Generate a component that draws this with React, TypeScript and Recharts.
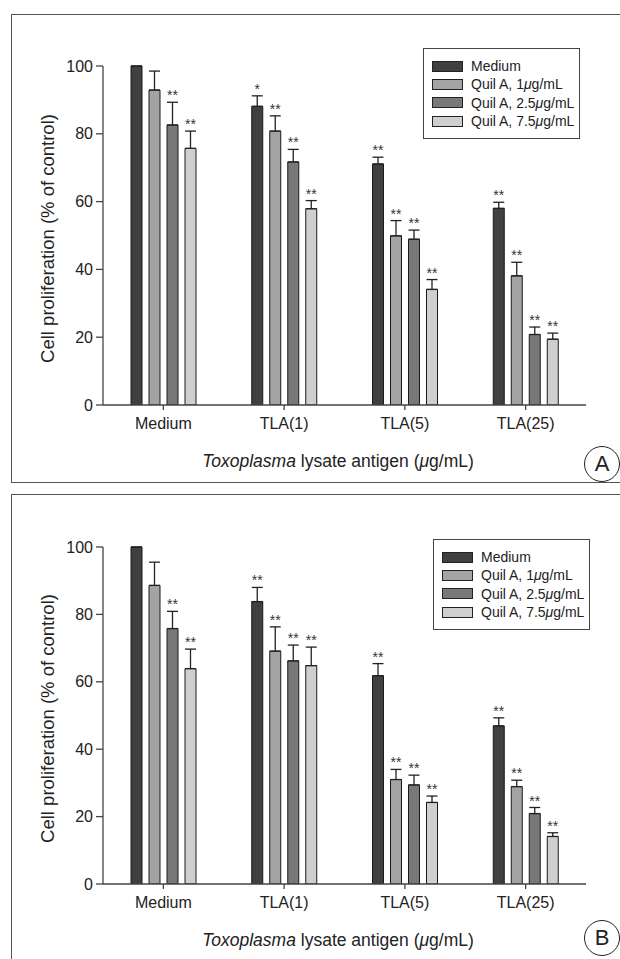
import { BarChart, Bar, XAxis, YAxis, ErrorBar, LabelList, Legend } from "recharts";

const CATEGORIES = ["Medium", "TLA(1)", "TLA(5)", "TLA(25)"];
const SERIES_KEYS = ["medium", "q1", "q25", "q75"];
const SERIES_DOSES = ["", "1", "2.5", "7.5"];
const COLORS = ["#404040", "#a3a3a3", "#787878", "#cfcfcf"];
const Y_TICKS = [0, 20, 40, 60, 80, 100];

// panel A
const A_MEDIUM = [100, 88.1, 71.1, 58.0];
const A_Q1 = [92.9, 80.8, 49.9, 38.1];
const A_Q25 = [82.6, 71.7, 48.9, 20.8];
const A_Q75 = [75.7, 57.9, 34.1, 19.4];
const A_MEDIUM_ERR = [0, 3.1, 2.0, 1.8];
const A_Q1_ERR = [5.6, 4.5, 4.5, 4.0];
const A_Q25_ERR = [6.7, 3.7, 2.7, 2.2];
const A_Q75_ERR = [5.1, 2.4, 2.9, 1.8];
const A_MEDIUM_SIG = ["", "*", "**", "**"];
const A_Q1_SIG = ["", "**", "**", "**"];
const A_Q25_SIG = ["**", "**", "**", "**"];
const A_Q75_SIG = ["**", "**", "**", "**"];

// panel B
const B_MEDIUM = [100, 83.8, 61.8, 46.9];
const B_Q1 = [88.6, 69.1, 31.0, 28.9];
const B_Q25 = [75.8, 66.2, 29.4, 20.9];
const B_Q75 = [63.9, 64.8, 24.2, 14.1];
const B_MEDIUM_ERR = [0, 4.2, 3.6, 2.4];
const B_Q1_ERR = [6.9, 7.2, 3.0, 1.9];
const B_Q25_ERR = [5.1, 4.7, 2.9, 1.8];
const B_Q75_ERR = [5.8, 5.5, 1.9, 1.1];
const B_MEDIUM_SIG = ["", "**", "**", "**"];
const B_Q1_SIG = ["", "**", "**", "**"];
const B_Q25_SIG = ["**", "**", "**", "**"];
const B_Q75_SIG = ["**", "**", "**", "**"];

const FONT = "'Liberation Sans', Arial, sans-serif";

function buildRows(vals: number[][], errs: number[][], sigs: string[][]) {
  return CATEGORIES.map((name, i) => {
    const row: any = { name };
    SERIES_KEYS.forEach((k, s) => {
      row[k] = vals[s][i];
      row[k + "Err"] = [0, errs[s][i]];
      row[k + "Sig"] = sigs[s][i];
    });
    return row;
  });
}

const dataA = buildRows(
  [A_MEDIUM, A_Q1, A_Q25, A_Q75],
  [A_MEDIUM_ERR, A_Q1_ERR, A_Q25_ERR, A_Q75_ERR],
  [A_MEDIUM_SIG, A_Q1_SIG, A_Q25_SIG, A_Q75_SIG]
);
const dataB = buildRows(
  [B_MEDIUM, B_Q1, B_Q25, B_Q75],
  [B_MEDIUM_ERR, B_Q1_ERR, B_Q25_ERR, B_Q75_ERR],
  [B_MEDIUM_SIG, B_Q1_SIG, B_Q25_SIG, B_Q75_SIG]
);

function seriesLabel(i: number) {
  if (i === 0) return <span>Medium</span>;
  return (
    <span>
      Quil A, {SERIES_DOSES[i]}
      <i>μ</i>g/mL
    </span>
  );
}

function LegendBox() {
  return (
    <div
      style={{
        boxSizing: "border-box",
        width: 157,
        height: 91,
        border: "1.5px solid #444",
        background: "#fff",
        padding: "8px 0 0 8px",
        fontFamily: FONT,
        fontSize: 14,
        color: "#222",
        whiteSpace: "nowrap",
      }}
    >
      {SERIES_KEYS.map((k, i) => (
        <div key={k} style={{ display: "flex", alignItems: "center", height: 18.3 }}>
          <div
            style={{
              boxSizing: "border-box",
              width: 31,
              height: 11,
              background: COLORS[i],
              border: "1px solid #222",
              marginRight: 8,
              flexShrink: 0,
            }}
          />
          {seriesLabel(i)}
        </div>
      ))}
    </div>
  );
}

function starLabel(key: string, data: any[]) {
  return (props: any) => {
    const vb = props.viewBox || {};
    const x = props.x ?? vb.x;
    const y = props.y ?? vb.y;
    const width = props.width ?? vb.width;
    const height = props.height ?? vb.height;
    const row = data[props.index];
    if (!row || !row[key + "Sig"]) return null;
    const perUnit = height / row[key];
    const top = y - row[key + "Err"][1] * perUnit;
    return (
      <text x={x + width / 2} y={top - 2} textAnchor="middle" fontSize={14} fill="#333" fontFamily={FONT}>
        {row[key + "Sig"]}
      </text>
    );
  };
}

function Panel({ data, top, height, marginTop, marginBottom, legendTop, legendLeft, titleY, letter, circleY }: any) {
  const plotTop = marginTop;
  const plotBottom = height - marginBottom - 30;
  const midY = (plotTop + plotBottom) / 2 + 3;
  return (
    <div style={{ position: "absolute", left: 0, top, width: 620, height }}>
      <BarChart
        width={620}
        height={height}
        data={data}
        margin={{ top: marginTop, right: 34, bottom: marginBottom, left: 43 }}
        barSize={11}
        barGap={7}
      >
        <XAxis
          dataKey="name"
          height={30}
          axisLine={{ stroke: "#444", strokeWidth: 1.3 }}
          tickLine={{ stroke: "#444", strokeWidth: 1.3 }}
          tickSize={5}
          tickMargin={8}
          tick={{ fill: "#222", fontSize: 16, fontFamily: FONT }}
          label={() => (
            <text x={338} y={titleY} textAnchor="middle" fontSize={17.5} fill="#222" fontFamily={FONT}>
              <tspan fontStyle="italic">Toxoplasma</tspan> lysate antigen (<tspan fontStyle="italic">μ</tspan>g/mL)
            </text>
          )}
        />
        <YAxis
          width={60}
          domain={[0, 100]}
          ticks={Y_TICKS}
          allowDataOverflow
          axisLine={{ stroke: "#444", strokeWidth: 1.3 }}
          tickLine={{ stroke: "#444", strokeWidth: 1.3 }}
          tickSize={7}
          tickMargin={3}
          tick={{ fill: "#222", fontSize: 16, fontFamily: FONT }}
          label={() => (
            <text
              x={47}
              y={midY}
              transform={`rotate(-90 47 ${midY})`}
              textAnchor="middle"
              dominantBaseline="central"
              fontSize={18.5}
              fill="#222"
              fontFamily={FONT}
            >
              Cell proliferation (% of control)
            </text>
          )}
        />
        <Legend
          layout="vertical"
          align="center"
          verticalAlign="middle"
          wrapperStyle={{ top: legendTop, left: legendLeft, width: 157, height: 91 }}
          content={() => <LegendBox />}
        />
        {SERIES_KEYS.map((k, i) => (
          <Bar key={k} dataKey={k} fill={COLORS[i]} stroke="#1a1a1a" strokeWidth={1} isAnimationActive={false}>
            <ErrorBar dataKey={k + "Err"} direction="y" width={5.5} stroke="#222" strokeWidth={1.3} />
            <LabelList dataKey={k + "Sig"} content={starLabel(k, data)} />
          </Bar>
        ))}
      </BarChart>
      <div
        style={{
          position: "absolute",
          left: 602 - 18,
          top: circleY - 18,
          width: 36,
          height: 36,
          boxSizing: "border-box",
          border: "1.5px solid #222",
          borderRadius: "50%",
          display: "flex",
          alignItems: "center",
          justifyContent: "center",
          fontFamily: FONT,
          fontSize: 22,
          color: "#222",
          background: "#fff",
        }}
      >
        {letter}
      </div>
    </div>
  );
}

export default function App() {
  return (
    <div style={{ position: "absolute", left: 0, top: 0, width: 620, height: 959, overflow: "hidden", background: "#fff" }}>
      <div
        style={{
          position: "absolute",
          left: 11,
          top: 14,
          width: 640,
          height: 469,
          boxSizing: "border-box",
          border: "1.5px solid #555",
        }}
      />
      <div
        style={{
          position: "absolute",
          left: 11,
          top: 494,
          width: 640,
          height: 500,
          boxSizing: "border-box",
          border: "1.5px solid #555",
        }}
      />
      <Panel
        data={dataA}
        top={0}
        height={483}
        marginTop={66}
        marginBottom={48}
        legendTop={48}
        legendLeft={423}
        titleY={467}
        letter="A"
        circleY={464}
      />
      <Panel
        data={dataB}
        top={480}
        height={479}
        marginTop={67}
        marginBottom={45}
        legendTop={59}
        legendLeft={433}
        titleY={466}
        letter="B"
        circleY={458}
      />
    </div>
  );
}
